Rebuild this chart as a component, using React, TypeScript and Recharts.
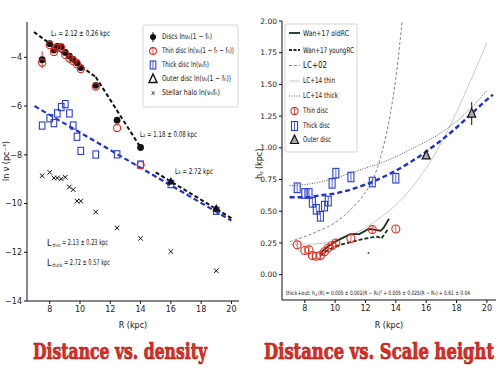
import React from 'react'
import { ComposedChart, Scatter, Line, XAxis, YAxis, ErrorBar } from 'recharts'

const FONT = "'DejaVu Sans', sans-serif"
const TITLE_FONT = "'DejaVu Serif', serif"
const RED = '#e32a1f'
const BLUE = '#2a3fd0'
const FIT_BLUE = '#1f2fd6'

// radial bins (kpc)
const binR = [7.5, 8.0, 8.28, 8.5, 8.76, 9.03, 9.3, 9.55, 9.8, 10.05, 11.04, 12.45, 14.0]
const outerR = [16.0, 19.0]

// ---- left panel: ln nu (pc^-3)
const discsLn = [-4.1, -3.44, -3.7, -3.55, -3.56, -3.8, -3.95, -4.08, -4.22, -4.42, -5.15, -6.58, -7.7]
const discsErr = [0.35, 0.04, 0.04, 0.04, 0.04, 0.04, 0.04, 0.04, 0.04, 0.05, 0.06, 0.08, 0.1]
const thinLn = [-4.22, -3.5, -3.78, -3.62, -3.62, -3.9, -4.05, -4.15, -4.28, -4.48, -5.2, -6.9, -8.42]
const thickLn = [-6.8, -6.5, -6.7, -6.3, -6.04, -5.92, -6.3, -6.8, -7.26, -7.84, -7.99, -7.98, -8.4]
const thickOuterLn = [-9.2, -10.3]
const outerLn = [-9.1, -10.2]
const haloR = [7.5, 8.0, 8.28, 8.5, 8.76, 9.03, 9.3, 9.55, 9.8, 10.05, 11.04, 12.45, 14.0, 16.0, 19.0]
const haloLn = [-8.86, -8.72, -8.95, -8.95, -8.99, -8.92, -9.32, -9.43, -9.9, -9.9, -10.35, -11.0, -11.43, -11.97, -12.76]

const fitL1R = [6.96, 11.04]
const fitL1 = [-2.96, -4.81]
const fitL2R = [11.04, 14.0]
const fitL2 = [-4.81, -7.7]
const fitL3R = [15.0, 20.0]
const fitL3 = [-8.72, -10.6]
const fitThickR = [7.0, 20.0]
const fitThick = [-6.0, -10.7]

const leftXTicks = [8, 10, 12, 14, 16, 18, 20]
const leftYTicks = [-14, -12, -10, -8, -6, -4]

// ---- right panel: scale height h_z (kpc)
const thinH = [0.235, 0.19, 0.195, 0.15, 0.145, 0.15, 0.18, 0.21, 0.23, 0.25, 0.285, 0.355, 0.36]
const thickH = [0.685, 0.64, 0.64, 0.57, 0.515, 0.46, 0.54, 0.58, 0.72, 0.8, 0.77, 0.73, 0.76]
const outerH = [0.94, 1.27]
const outerHErr = [0.02, 0.09]
const strayR = [12.2]
const strayH = [0.17]

const oldRcR = [9.0, 9.5, 10.0, 10.5, 11.0, 11.6, 12.2, 12.6, 13.0, 13.2, 13.55]
const oldRcH = [0.17, 0.22, 0.26, 0.29, 0.32, 0.32, 0.36, 0.355, 0.345, 0.37, 0.44]
const youngRcR = [9.0, 9.5, 10.0, 10.5, 11.0, 11.5, 12.0, 12.5, 12.8, 13.05, 13.5]
const youngRcH = [0.15, 0.19, 0.22, 0.24, 0.255, 0.27, 0.285, 0.295, 0.3, 0.285, 0.36]
const lc02R = [7.0, 8.0, 9.0, 10.0, 11.0, 12.0, 12.5, 13.0, 13.5, 14.0, 14.5]
const lc02H = [0.26, 0.3, 0.35, 0.41, 0.51, 0.65, 0.75, 0.93, 1.18, 1.55, 2.1]
const lc14ThinR = [7, 8, 9, 10, 11, 12, 13, 14, 15, 16, 17, 18, 19, 20]
const lc14ThinH = [0.24, 0.24, 0.245, 0.27, 0.31, 0.37, 0.45, 0.55, 0.68, 0.84, 1.04, 1.28, 1.55, 1.83]
const lc14ThickR = [7, 8, 9, 10, 11, 12, 13, 14, 15, 16, 17, 18, 19, 20]
const lc14ThickH = [0.7, 0.71, 0.73, 0.76, 0.8, 0.84, 0.88, 0.93, 0.99, 1.05, 1.12, 1.21, 1.32, 1.45]
const fitHR = [7, 8, 9, 10, 11, 12, 13, 14, 15, 16, 17, 18, 19, 20, 20.4]
const fitH = [0.61, 0.61, 0.625, 0.64, 0.67, 0.71, 0.76, 0.82, 0.89, 0.97, 1.06, 1.16, 1.27, 1.38, 1.42]

const rightXTicks = [8, 10, 12, 14, 16, 18, 20]
const rightYTicks = [0, 0.25, 0.5, 0.75, 1.0, 1.25, 1.5, 1.75, 2.0]

const leftLegendLabels = [
  'Discs lnν₀(1 − fₕ)',
  'Thin disc ln(ν₀(1 − fₜ − fₕ))',
  'Thick disc ln(ν₀fₜ)',
  'Outer disc ln(ν₀(1 − fₕ))',
  'Stellar halo ln(ν₀fₕ)',
]
const rightLegendLabels = [
  'Wan+17 oldRC', 'Wan+17 youngRC', 'LC+02', 'LC+14 thin',
  'LC+14 thick', 'Thin disc', 'Thick disc', 'Outer disc',
]

const pts = (xs: number[], ys: number[], es?: number[]) =>
  xs.map((x, i) => ({ x, y: ys[i], e: es ? es[i] : 0 }))

// ---- marker shapes
const BlackDot = (p: any) => <circle cx={p.cx} cy={p.cy} r={3.4} fill="#111" />
const RedRing = (p: any) => <circle cx={p.cx} cy={p.cy} r={3.6} fill="none" stroke={RED} strokeWidth={1.1} />
const BlueBox = (p: any) => (
  <rect x={p.cx - 2.8} y={p.cy - 3.6} width={5.6} height={7.2} fill="none" stroke={BLUE} strokeWidth={1.1} />
)
const BlackTri = (p: any) => (
  <path d={`M${p.cx},${p.cy - 4.5} L${p.cx + 4},${p.cy + 3} L${p.cx - 4},${p.cy + 3} Z`} fill="#111" />
)
const Cross = (p: any) => (
  <g stroke="#111" strokeWidth={1}>
    <line x1={p.cx - 2.3} y1={p.cy - 2.3} x2={p.cx + 2.3} y2={p.cy + 2.3} />
    <line x1={p.cx - 2.3} y1={p.cy + 2.3} x2={p.cx + 2.3} y2={p.cy - 2.3} />
  </g>
)
const RedRingBar = (p: any) => (
  <g>
    <circle cx={p.cx} cy={p.cy} r={4} fill="none" stroke={RED} strokeWidth={1.1} />
    <line x1={p.cx} y1={p.cy - 3.5} x2={p.cx} y2={p.cy + 3.5} stroke={RED} strokeWidth={0.8} />
  </g>
)
const BlueBoxBar = (p: any) => (
  <g>
    <rect x={p.cx - 3} y={p.cy - 4.8} width={6} height={9.6} fill="none" stroke={BLUE} strokeWidth={1.1} />
    <line x1={p.cx} y1={p.cy - 4.8} x2={p.cx} y2={p.cy + 4.8} stroke={BLUE} strokeWidth={0.8} />
  </g>
)
const GreyTri = (p: any) => (
  <path d={`M${p.cx},${p.cy - 5} L${p.cx + 4},${p.cy + 3.5} L${p.cx - 4},${p.cy + 3.5} Z`} fill="#aaa" stroke="#111" strokeWidth={1.2} />
)
const TinyBlue = (p: any) => <circle cx={p.cx} cy={p.cy} r={1} fill={BLUE} />

const tickStyle = { fontSize: 8, fill: '#222', fontFamily: FONT }
const minus = (v: number) => (v < 0 ? `\u2212${Math.abs(v)}` : `${v}`)

// squeezes a one-line label into width w (the source image is horizontally compressed)
function FitText({ x, y, w, size = 8, text }: { x: number; y: number; w: number; size?: number; text: string }) {
  const sx = Math.min(1, w / (text.length * 0.56 * size))
  return (
    <g transform={`translate(${x},${y}) scale(${sx},1)`}>
      <text x={0} y={0} fontSize={size} fontFamily={FONT} fill="#111" dominantBaseline="central"
        textLength={w / sx} lengthAdjust="spacingAndGlyphs">
        {text}
      </text>
    </g>
  )
}

function LeftPanel() {
  return (
    <ComposedChart width={250} height={340} margin={{ top: 22, right: 11, left: 0, bottom: 9 }}>
      <XAxis xAxisId="b" dataKey="x" type="number" domain={[6.5, 20.5]} ticks={leftXTicks} allowDataOverflow
        tick={tickStyle} tickSize={3} stroke="#111" height={30} />
      <XAxis xAxisId="t" orientation="top" type="number" domain={[6.5, 20.5]} allowDataOverflow
        tick={false} tickLine={false} height={0} stroke="#111" />
      <YAxis yAxisId="l" dataKey="y" type="number" domain={[-14, -2.55]} ticks={leftYTicks} allowDataOverflow
        tick={tickStyle} tickSize={3} stroke="#111" width={27} tickFormatter={minus} />
      <YAxis yAxisId="r" orientation="right" type="number" domain={[-14, -2.55]} allowDataOverflow
        tick={false} tickLine={false} width={0} stroke="#111" />

      <Line data={pts(fitThickR, fitThick)} dataKey="y" xAxisId="b" yAxisId="l" type="linear" stroke={FIT_BLUE}
        strokeWidth={2.2} strokeDasharray="5 3" dot={false} isAnimationActive={false} />
      <Line data={pts(fitL1R, fitL1)} dataKey="y" xAxisId="b" yAxisId="l" type="linear" stroke="#111"
        strokeWidth={2} strokeDasharray="4 2.5" dot={false} isAnimationActive={false} />
      <Line data={pts(fitL2R, fitL2)} dataKey="y" xAxisId="b" yAxisId="l" type="linear" stroke="#111"
        strokeWidth={2} strokeDasharray="4 2.5" dot={false} isAnimationActive={false} />
      <Line data={pts(fitL3R, fitL3)} dataKey="y" xAxisId="b" yAxisId="l" type="linear" stroke="#111"
        strokeWidth={2} strokeDasharray="4 2.5" dot={false} isAnimationActive={false} />

      <Scatter data={pts(haloR, haloLn)} dataKey="y" xAxisId="b" yAxisId="l" shape={Cross} isAnimationActive={false} />
      <Scatter data={pts(binR, thickLn)} dataKey="y" xAxisId="b" yAxisId="l" shape={BlueBox} isAnimationActive={false} />
      <Scatter data={pts(outerR, thickOuterLn)} dataKey="y" xAxisId="b" yAxisId="l" shape={BlueBox} isAnimationActive={false} />
      <Scatter data={pts(binR, discsLn, discsErr)} dataKey="y" xAxisId="b" yAxisId="l" shape={BlackDot} isAnimationActive={false}>
        <ErrorBar dataKey="e" direction="y" width={0} stroke="#d33" strokeWidth={1} />
      </Scatter>
      <Scatter data={pts(binR, thinLn)} dataKey="y" xAxisId="b" yAxisId="l" shape={RedRing} isAnimationActive={false} />
      <Scatter data={pts(outerR, outerLn)} dataKey="y" xAxisId="b" yAxisId="l" shape={BlackTri} isAnimationActive={false} />
    </ComposedChart>
  )
}

function RightPanel() {
  return (
    <ComposedChart width={250} height={340} margin={{ top: 21, right: 4, left: 0, bottom: 10 }}>
      <XAxis xAxisId="b" dataKey="x" type="number" domain={[6.5, 20.6]} ticks={rightXTicks} allowDataOverflow
        tick={tickStyle} tickSize={3} stroke="#111" height={30} />
      <XAxis xAxisId="t" orientation="top" type="number" domain={[6.5, 20.6]} allowDataOverflow
        tick={false} tickLine={false} height={0} stroke="#111" />
      <YAxis yAxisId="l" dataKey="y" type="number" domain={[-0.2, 2.0]} ticks={rightYTicks} allowDataOverflow
        tick={{ ...tickStyle, fontSize: 7.5 }} tickSize={3} stroke="#111" width={32} tickFormatter={(v: number) => v.toFixed(2)} />
      <YAxis yAxisId="r" orientation="right" type="number" domain={[-0.2, 2.0]} allowDataOverflow
        tick={false} tickLine={false} width={0} stroke="#111" />

      <Line data={pts(lc14ThinR, lc14ThinH)} dataKey="y" xAxisId="b" yAxisId="l" type="monotone" stroke="#c4c4c4"
        strokeWidth={0.9} dot={false} isAnimationActive={false} />
      <Line data={pts(lc02R, lc02H)} dataKey="y" xAxisId="b" yAxisId="l" type="monotone" stroke="#777"
        strokeWidth={0.9} strokeDasharray="3 2" dot={false} isAnimationActive={false} />
      <Line data={pts(lc14ThickR, lc14ThickH)} dataKey="y" xAxisId="b" yAxisId="l" type="monotone" stroke="#444"
        strokeWidth={0.9} strokeDasharray="1 1.5" dot={false} isAnimationActive={false} />
      <Line data={pts(fitHR, fitH)} dataKey="y" xAxisId="b" yAxisId="l" type="monotone" stroke={FIT_BLUE}
        strokeWidth={2.4} strokeDasharray="5 3" dot={false} isAnimationActive={false} />

      <Scatter data={pts(binR, thickH)} dataKey="y" xAxisId="b" yAxisId="l" shape={BlueBoxBar} isAnimationActive={false} />
      <Scatter data={pts(binR, thinH)} dataKey="y" xAxisId="b" yAxisId="l" shape={RedRingBar} isAnimationActive={false} />
      <Scatter data={pts(strayR, strayH)} dataKey="y" xAxisId="b" yAxisId="l" shape={TinyBlue} isAnimationActive={false} />

      <Line data={pts(oldRcR, oldRcH)} dataKey="y" xAxisId="b" yAxisId="l" type="linear" stroke="#16311a"
        strokeWidth={1.8} dot={false} isAnimationActive={false} />
      <Line data={pts(youngRcR, youngRcH)} dataKey="y" xAxisId="b" yAxisId="l" type="linear" stroke="#16311a"
        strokeWidth={1.8} strokeDasharray="4 2" dot={false} isAnimationActive={false} />

      <Scatter data={pts(outerR, outerH, outerHErr)} dataKey="y" xAxisId="b" yAxisId="l" shape={GreyTri} isAnimationActive={false}>
        <ErrorBar dataKey="e" direction="y" width={0} stroke="#111" strokeWidth={1} />
      </Scatter>
    </ComposedChart>
  )
}

function Overlay() {
  const t = { fontFamily: FONT, fill: '#111', dominantBaseline: 'central' as const }
  const lgY = [37, 51, 65, 79, 93]
  const lgW = [50, 72, 47, 69, 58]
  const rgY = [33, 50, 65.5, 81, 96, 111, 126, 140]
  const rgW = [46, 51, 24, 32, 35, 25, 27, 28]
  return (
    <svg width={500} height={373} style={{ position: 'absolute', left: 0, top: 0, pointerEvents: 'none' }}>
      {/* left legend */}
      <rect x={143} y={25} width={95} height={82} rx={2} fill="#fff" fillOpacity={0.9} stroke="#ccc" strokeWidth={0.8} />
      <circle cx={153} cy={lgY[0]} r={3} fill="#111" />
      <line x1={153} y1={lgY[0] - 5} x2={153} y2={lgY[0] + 5} stroke="#111" strokeWidth={1} />
      <circle cx={153} cy={lgY[1]} r={3.4} fill="none" stroke={RED} strokeWidth={1.1} />
      <line x1={153} y1={lgY[1] - 4} x2={153} y2={lgY[1] + 4} stroke={RED} strokeWidth={0.8} />
      <rect x={150.2} y={lgY[2] - 4} width={5.6} height={8} fill="none" stroke={BLUE} strokeWidth={1.1} />
      <line x1={153} y1={lgY[2] - 4} x2={153} y2={lgY[2] + 4} stroke={BLUE} strokeWidth={0.8} />
      <path d={`M153,${lgY[3] - 5} L157,${lgY[3] + 3.5} L149,${lgY[3] + 3.5} Z`} fill="none" stroke="#111" strokeWidth={1.4} />
      <text x={153} y={lgY[4]} textAnchor="middle" fontSize={7} {...t}>x</text>
      {leftLegendLabels.map((s, i) => (
        <FitText key={i} x={162} y={lgY[i]} w={lgW[i]} text={s} />
      ))}

      {/* left annotations */}
      <FitText x={51} y={34} w={59} text="L₁ = 2.12 ± 0.26 kpc" />
      <FitText x={140} y={135} w={57} text="L₂ = 1.18 ± 0.08 kpc" />
      <FitText x={175} y={172} w={38} text="L₃ = 2.72 kpc" />
      <text x={47} y={243} fontSize={8} {...t}>L</text>
      <FitText x={52.5} y={245.5} w={8} size={5} text="thin" />
      <FitText x={62} y={243} w={46} text="= 2.13 ± 0.23 kpc" />
      <text x={47} y={263} fontSize={8} {...t}>L</text>
      <FitText x={52.5} y={265.5} w={10} size={5} text="thick" />
      <FitText x={64} y={263} w={46} text="= 2.72 ± 0.57 kpc" />

      {/* axis labels */}
      <text x={133} y={325} textAnchor="middle" fontSize={8} {...t}>R (kpc)</text>
      <text x={389} y={325} textAnchor="middle" fontSize={8} {...t}>R (kpc)</text>
      <text transform="translate(6,161) rotate(-90)" textAnchor="middle" fontSize={8} {...t}>ln ν (pc⁻³)</text>
      <g transform="translate(259,162) rotate(-90)">
        <text x={-17} y={0} fontSize={8} {...t}>h</text>
        <text x={-12} y={2} fontSize={5} {...t}>z</text>
        <text x={-7} y={0} fontSize={8} {...t}>(kpc)</text>
      </g>

      {/* right legend */}
      <rect x={285} y={24} width={72} height={128} rx={2} fill="#fff" fillOpacity={0.9} stroke="#ccc" strokeWidth={0.8} />
      <line x1={289} y1={rgY[0]} x2={300} y2={rgY[0]} stroke="#16311a" strokeWidth={1.8} />
      <line x1={289} y1={rgY[1]} x2={300} y2={rgY[1]} stroke="#16311a" strokeWidth={1.8} strokeDasharray="3 1.5" />
      <line x1={289} y1={rgY[2]} x2={300} y2={rgY[2]} stroke="#777" strokeWidth={0.9} strokeDasharray="3 2" />
      <line x1={289} y1={rgY[3]} x2={300} y2={rgY[3]} stroke="#c4c4c4" strokeWidth={0.9} />
      <line x1={289} y1={rgY[4]} x2={300} y2={rgY[4]} stroke="#444" strokeWidth={0.9} strokeDasharray="1 1.5" />
      <circle cx={294.5} cy={rgY[5]} r={3.6} fill="none" stroke={RED} strokeWidth={1.1} />
      <line x1={294.5} y1={rgY[5] - 3.5} x2={294.5} y2={rgY[5] + 3.5} stroke={RED} strokeWidth={0.8} />
      <rect x={291.5} y={rgY[6] - 4.5} width={6} height={9} fill="none" stroke={BLUE} strokeWidth={1.1} />
      <line x1={294.5} y1={rgY[6] - 4.5} x2={294.5} y2={rgY[6] + 4.5} stroke={BLUE} strokeWidth={0.8} />
      <path d={`M294.5,${rgY[7] - 5} L298.5,${rgY[7] + 3.5} L290.5,${rgY[7] + 3.5} Z`} fill="#aaa" stroke="#111" strokeWidth={1.2} />
      {rightLegendLabels.map((s, i) => (
        <FitText key={i} x={303} y={rgY[i]} w={rgW[i]} text={s} />
      ))}

      {/* right fit annotation */}
      <FitText x={286} y={293} w={29} size={6} text="thick+out: h" />
      <text x={315.3} y={294.5} fontSize={4} {...t}>z</text>
      <FitText x={318} y={293} w={152} size={6} text="(R) = 0.005 ± 0.002(R − R₀)² + 0.005 ± 0.025(R − R₀) + 0.61 ± 0.04" />

      {/* titles */}
      <g transform="translate(33,359) scale(1,1.45)">
        <text x={0} y={0} fontFamily={TITLE_FONT} fontWeight={700} fontSize={15.5} fill={RED} stroke="#b01810"
          strokeWidth={0.5} textLength={174} lengthAdjust="spacingAndGlyphs">
          Distance vs. density
        </text>
      </g>
      <g transform="translate(264,359) scale(1,1.45)">
        <text x={0} y={0} fontFamily={TITLE_FONT} fontWeight={700} fontSize={15.5} fill={RED} stroke="#b01810"
          strokeWidth={0.5} textLength={230} lengthAdjust="spacingAndGlyphs">
          Distance vs. Scale height
        </text>
      </g>
    </svg>
  )
}

export default function App() {
  return (
    <div style={{ position: 'fixed', left: 0, top: 0, width: 500, height: 373, background: '#fff', overflow: 'hidden' }}>
      <div style={{ position: 'absolute', left: 0, top: 0 }}>
        <LeftPanel />
      </div>
      <div style={{ position: 'absolute', left: 250, top: 0 }}>
        <RightPanel />
      </div>
      <Overlay />
    </div>
  )
}
